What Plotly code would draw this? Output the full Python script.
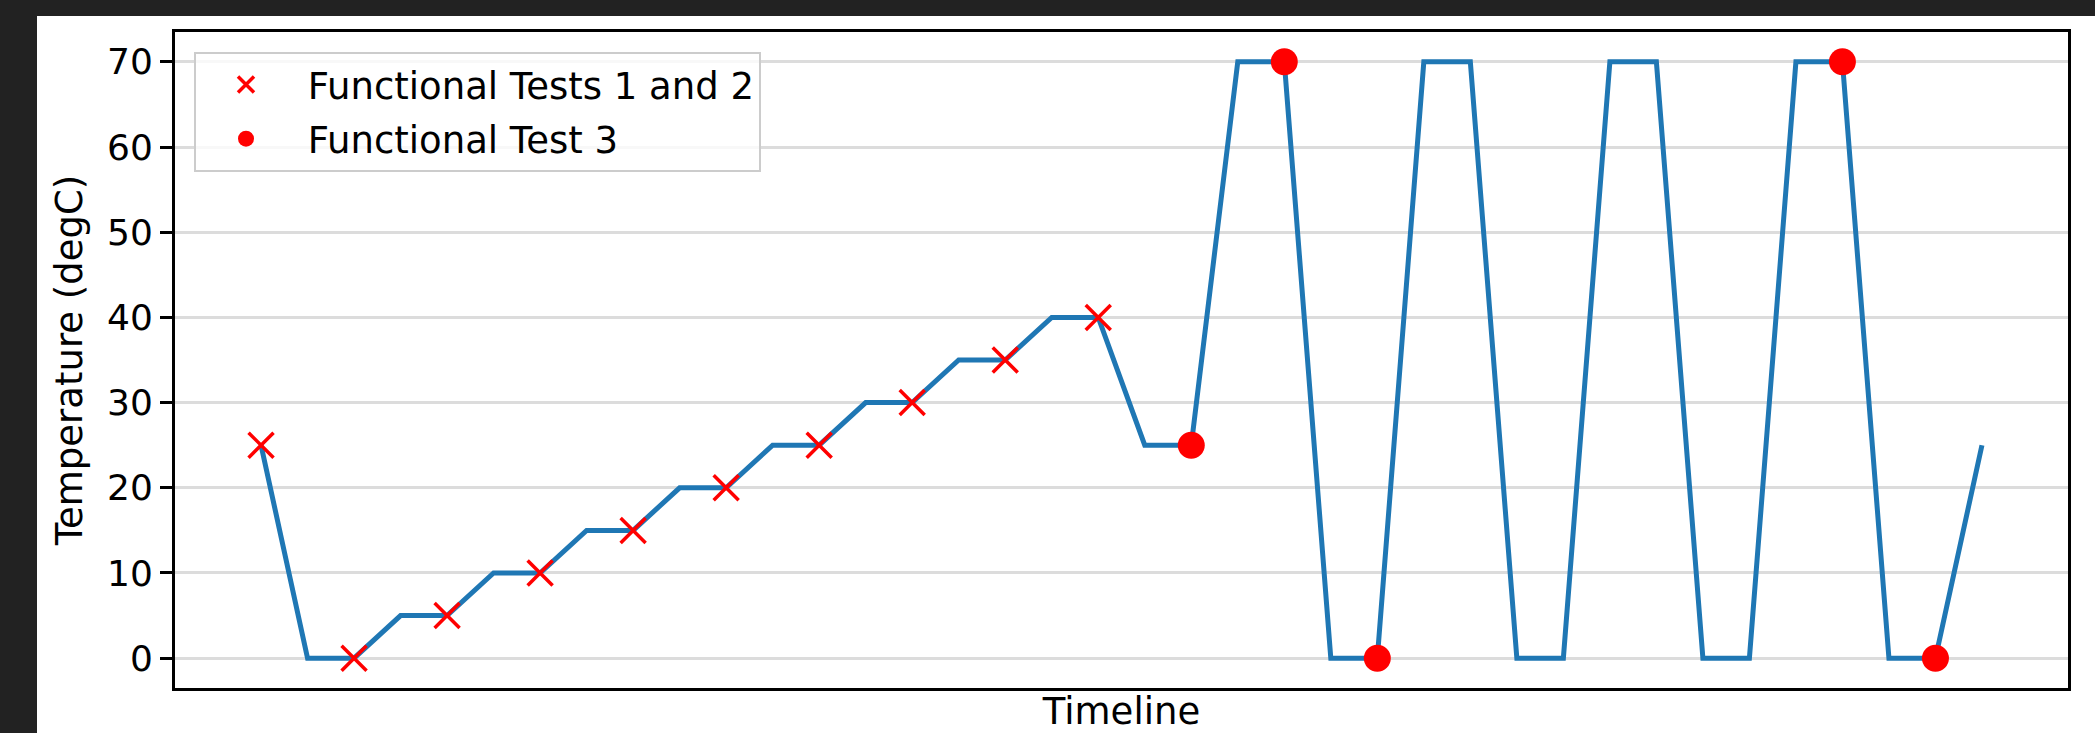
import plotly.graph_objects as go

# ---- data -------------------------------------------------------------
timeline = list(range(38))
temperature = [25, 0, 0, 5, 5, 10, 10, 15, 15, 20, 20, 25, 25, 30, 30, 35, 35,
               40, 40, 25, 25, 70, 70, 0, 0, 70, 70, 0, 0, 70, 70, 0, 0, 70, 70,
               0, 0, 25]
tests12_idx = [0, 2, 4, 6, 8, 10, 12, 14, 16, 18]
test3_idx = [20, 22, 24, 34, 36]
y_ticks = [0, 10, 20, 30, 40, 50, 60, 70]
series_names = ["Functional Tests 1 and 2", "Functional Test 3"]

FONT = "DejaVu Sans"
FS = 37

fig = go.Figure()
fig.add_trace(go.Scatter(
    x=timeline, y=temperature, mode="lines",
    line=dict(color="#1f77b4", width=5), showlegend=False, hoverinfo="skip"))
fig.add_trace(go.Scatter(
    x=[timeline[i] for i in tests12_idx], y=[temperature[i] for i in tests12_idx],
    mode="markers", name="\u00a0" + series_names[0], legendgroup="a",
    marker=dict(symbol="x-thin", size=25, color="red",
                line=dict(color="red", width=3.5))))
fig.add_trace(go.Scatter(
    x=[timeline[i] for i in test3_idx], y=[temperature[i] for i in test3_idx],
    mode="markers", name="\u00a0" + series_names[1], legendgroup="b",
    marker=dict(symbol="circle", size=27, color="red", line=dict(width=0))))

W, H = 2095, 733
L, R, T, B = 175, 2068, 32, 688
pw, ph = R - L, B - T

def px2paper_x(p):
    return (p - L) / pw

def px2paper_y(p):
    return (B - p) / ph

# dark screenshot bands (top and left)
fig.add_shape(type="rect", xref="paper", yref="paper",
              x0=px2paper_x(0), x1=px2paper_x(W), y0=px2paper_y(16), y1=px2paper_y(0),
              fillcolor="#222222", line=dict(width=0), layer="above")
fig.add_shape(type="rect", xref="paper", yref="paper",
              x0=px2paper_x(0), x1=px2paper_x(37), y0=px2paper_y(H), y1=px2paper_y(0),
              fillcolor="#222222", line=dict(width=0), layer="above")

fig.update_layout(
    width=W, height=H,
    margin=dict(l=L, r=W - R, t=T, b=H - B, autoexpand=False),
    paper_bgcolor="white", plot_bgcolor="white",
    font=dict(family=FONT, size=FS, color="black"),
    showlegend=True,
    legend=dict(x=px2paper_x(194), y=px2paper_y(52), xanchor="left", yanchor="top",
                bgcolor="rgba(255,255,255,0.8)", bordercolor="#cccccc", borderwidth=2,
                font=dict(family=FONT, size=FS), itemwidth=90,
                tracegroupgap=3, traceorder="grouped"),
    xaxis=dict(range=[-1.85, 38.85], showgrid=False, zeroline=False,
               showticklabels=False, ticks="",
               showline=True, mirror=True, linecolor="black", linewidth=3,
               title=dict(text="Timeline", font=dict(family=FONT, size=FS), standoff=14),
               automargin=False),
    yaxis=dict(range=[-3.5, 73.5], tickvals=y_ticks, ticktext=[str(v) for v in y_ticks],
               showgrid=True, gridcolor="#dcdcdc", gridwidth=3, zeroline=False,
               ticks="outside", ticklen=12, tickwidth=3, tickcolor="black",
               showline=True, mirror=True, linecolor="black", linewidth=3,
               tickfont=dict(family=FONT, size=36),
               title=dict(text="Temperature (degC)", font=dict(family=FONT, size=FS), standoff=14),
               automargin=False),
)

fig.write_html("out.html", config={"displayModeBar": False},
               post_script="document.body.style.margin='0';document.body.style.background='white';")
